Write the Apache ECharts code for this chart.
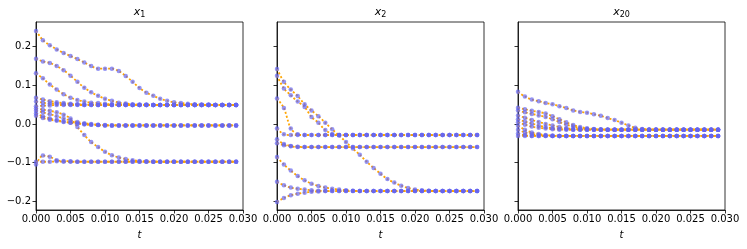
<!DOCTYPE html>
<html><head><meta charset="utf-8">
<script src="https://cdn.jsdelivr.net/npm/echarts@6/dist/echarts.min.js"></script>
<style>html,body{margin:0;padding:0;background:#fff}#c{width:747px;height:249px}</style>
</head><body><div id="c"></div>
<script>
// time samples
var t = [0.000,0.001,0.002,0.003,0.004,0.005,0.006,0.007,0.008,0.009,0.010,0.011,0.012,0.013,0.014,0.015,0.016,0.017,0.018,0.019,0.020,0.021,0.022,0.023,0.024,0.025,0.026,0.027,0.028,0.029];
var xTicks = [0.000,0.005,0.010,0.015,0.020,0.025,0.030];
var yTicks = [-0.2,-0.1,0.0,0.1,0.2];
var panelTitles = ['1','2','20'];

// panel x_1 trajectories
var x1_a = [0.241,0.217,0.204,0.193,0.184,0.176,0.168,0.159,0.150,0.143,0.143,0.143,0.137,0.124,0.109,0.093,0.081,0.073,0.065,0.060,0.056,0.054,0.052,0.051,0.050,0.050,0.049,0.049,0.049,0.049];
var x1_b = [0.169,0.162,0.158,0.150,0.139,0.125,0.109,0.094,0.082,0.073,0.065,0.060,0.055,0.053,0.051,0.050,0.050,0.049,0.049,0.049,0.049,0.049,0.049,0.049,0.049,0.049,0.049,0.049,0.049,0.049];
var x1_c = [0.131,0.118,0.102,0.089,0.077,0.068,0.062,0.058,0.055,0.054,0.052,0.051,0.050,0.050,0.049,0.049,0.049,0.049,0.049,0.049,0.049,0.049,0.049,0.049,0.049,0.049,0.049,0.049,0.049,0.049];
var x1_d = [0.068,0.063,0.059,0.056,0.054,0.052,0.051,0.050,0.050,0.049,0.049,0.049,0.049,0.049,0.049,0.049,0.049,0.049,0.049,0.049,0.049,0.049,0.049,0.049,0.049,0.049,0.049,0.049,0.049,0.049];
var x1_e = [0.058,0.055,0.053,0.052,0.051,0.050,0.050,0.049,0.049,0.049,0.049,0.049,0.049,0.049,0.049,0.049,0.049,0.049,0.049,0.049,0.049,0.049,0.049,0.049,0.049,0.049,0.049,0.049,0.049,0.049];
var x1_f = [0.046,0.047,0.048,0.049,0.049,0.049,0.049,0.049,0.049,0.049,0.049,0.049,0.049,0.049,0.049,0.049,0.049,0.049,0.049,0.049,0.049,0.049,0.049,0.049,0.049,0.049,0.049,0.049,0.049,0.049];
var x1_g = [0.040,0.037,0.034,0.030,0.024,0.014,-0.008,-0.029,-0.047,-0.060,-0.072,-0.081,-0.087,-0.091,-0.094,-0.096,-0.097,-0.098,-0.098,-0.098,-0.098,-0.098,-0.098,-0.098,-0.098,-0.098,-0.098,-0.098,-0.098,-0.098];
var x1_h = [0.034,0.030,0.025,0.020,0.014,0.009,0.005,0.002,0.000,-0.002,-0.003,-0.004,-0.004,-0.004,-0.004,-0.004,-0.004,-0.004,-0.004,-0.004,-0.004,-0.004,-0.004,-0.004,-0.004,-0.004,-0.004,-0.004,-0.004,-0.004];
var x1_i = [0.027,0.020,0.014,0.010,0.006,0.003,0.001,-0.001,-0.002,-0.003,-0.004,-0.004,-0.004,-0.004,-0.004,-0.004,-0.004,-0.004,-0.004,-0.004,-0.004,-0.004,-0.004,-0.004,-0.004,-0.004,-0.004,-0.004,-0.004,-0.004];
var x1_j = [0.021,0.015,0.011,0.008,0.005,0.003,0.001,-0.001,-0.002,-0.003,-0.004,-0.004,-0.004,-0.004,-0.004,-0.004,-0.004,-0.004,-0.004,-0.004,-0.004,-0.004,-0.004,-0.004,-0.004,-0.004,-0.004,-0.004,-0.004,-0.004];
var x1_k = [-0.105,-0.082,-0.085,-0.094,-0.096,-0.097,-0.098,-0.098,-0.098,-0.098,-0.098,-0.098,-0.098,-0.098,-0.098,-0.098,-0.098,-0.098,-0.098,-0.098,-0.098,-0.098,-0.098,-0.098,-0.098,-0.098,-0.098,-0.098,-0.098,-0.098];
var x1_l = [-0.098,-0.098,-0.098,-0.097,-0.098,-0.098,-0.098,-0.098,-0.098,-0.098,-0.098,-0.098,-0.098,-0.098,-0.098,-0.098,-0.098,-0.098,-0.098,-0.098,-0.098,-0.098,-0.098,-0.098,-0.098,-0.098,-0.098,-0.098,-0.098,-0.098];

// panel x_2 trajectories
var x2_a = [0.142,0.109,0.089,0.072,0.051,0.035,0.020,0.003,-0.014,-0.030,-0.047,-0.064,-0.080,-0.098,-0.114,-0.129,-0.143,-0.152,-0.160,-0.166,-0.170,-0.172,-0.173,-0.174,-0.174,-0.174,-0.174,-0.174,-0.174,-0.174];
var x2_b = [0.125,0.092,0.074,0.058,0.044,0.018,0.003,-0.016,-0.026,-0.029,-0.029,-0.029,-0.029,-0.029,-0.029,-0.029,-0.029,-0.029,-0.029,-0.029,-0.029,-0.029,-0.029,-0.029,-0.029,-0.029,-0.029,-0.029,-0.029,-0.029];
var x2_c = [0.066,0.041,-0.012,-0.027,-0.029,-0.029,-0.029,-0.029,-0.029,-0.029,-0.029,-0.029,-0.029,-0.029,-0.029,-0.029,-0.029,-0.029,-0.029,-0.029,-0.029,-0.029,-0.029,-0.029,-0.029,-0.029,-0.029,-0.029,-0.029,-0.029];
var x2_d = [-0.012,-0.027,-0.029,-0.029,-0.029,-0.029,-0.029,-0.029,-0.029,-0.029,-0.029,-0.029,-0.029,-0.029,-0.029,-0.029,-0.029,-0.029,-0.029,-0.029,-0.029,-0.029,-0.029,-0.029,-0.029,-0.029,-0.029,-0.029,-0.029,-0.029];
var x2_e = [-0.040,-0.052,-0.057,-0.059,-0.060,-0.060,-0.060,-0.060,-0.060,-0.060,-0.060,-0.060,-0.060,-0.060,-0.060,-0.060,-0.060,-0.060,-0.060,-0.060,-0.060,-0.060,-0.060,-0.060,-0.060,-0.060,-0.060,-0.060,-0.060,-0.060];
var x2_f = [-0.050,-0.055,-0.058,-0.060,-0.060,-0.060,-0.060,-0.060,-0.060,-0.060,-0.060,-0.060,-0.060,-0.060,-0.060,-0.060,-0.060,-0.060,-0.060,-0.060,-0.060,-0.060,-0.060,-0.060,-0.060,-0.060,-0.060,-0.060,-0.060,-0.060];
var x2_g = [-0.086,-0.105,-0.121,-0.135,-0.146,-0.155,-0.161,-0.165,-0.168,-0.170,-0.172,-0.173,-0.174,-0.174,-0.174,-0.174,-0.174,-0.174,-0.174,-0.174,-0.174,-0.174,-0.174,-0.174,-0.174,-0.174,-0.174,-0.174,-0.174,-0.174];
var x2_h = [-0.150,-0.159,-0.165,-0.168,-0.170,-0.172,-0.173,-0.174,-0.174,-0.174,-0.174,-0.174,-0.174,-0.174,-0.174,-0.174,-0.174,-0.174,-0.174,-0.174,-0.174,-0.174,-0.174,-0.174,-0.174,-0.174,-0.174,-0.174,-0.174,-0.174];
var x2_i = [-0.202,-0.192,-0.185,-0.181,-0.178,-0.176,-0.175,-0.174,-0.174,-0.174,-0.174,-0.174,-0.174,-0.174,-0.174,-0.174,-0.174,-0.174,-0.174,-0.174,-0.174,-0.174,-0.174,-0.174,-0.174,-0.174,-0.174,-0.174,-0.174,-0.174];

// panel x_20 trajectories
var x20_a = [0.083,0.071,0.063,0.059,0.054,0.051,0.046,0.041,0.035,0.031,0.029,0.025,0.021,0.015,0.010,0.003,-0.004,-0.010,-0.013,-0.015,-0.015,-0.015,-0.015,-0.015,-0.015,-0.015,-0.015,-0.015,-0.015,-0.015];
var x20_b = [0.042,0.038,0.034,0.031,0.027,0.020,0.012,0.004,-0.003,-0.008,-0.011,-0.013,-0.014,-0.015,-0.015,-0.015,-0.015,-0.015,-0.015,-0.015,-0.015,-0.015,-0.015,-0.015,-0.015,-0.015,-0.015,-0.015,-0.015,-0.015];
var x20_c = [0.035,0.030,0.026,0.022,0.018,0.012,0.005,-0.002,-0.007,-0.011,-0.013,-0.014,-0.015,-0.015,-0.015,-0.015,-0.015,-0.015,-0.015,-0.015,-0.015,-0.015,-0.015,-0.015,-0.015,-0.015,-0.015,-0.015,-0.015,-0.015];
var x20_d = [0.022,0.016,0.010,0.005,0.000,-0.004,-0.008,-0.011,-0.013,-0.014,-0.015,-0.015,-0.015,-0.015,-0.015,-0.015,-0.015,-0.015,-0.015,-0.015,-0.015,-0.015,-0.015,-0.015,-0.015,-0.015,-0.015,-0.015,-0.015,-0.015];
var x20_e = [0.012,0.006,0.001,-0.004,-0.008,-0.011,-0.013,-0.014,-0.015,-0.015,-0.015,-0.015,-0.015,-0.015,-0.015,-0.015,-0.015,-0.015,-0.015,-0.015,-0.015,-0.015,-0.015,-0.015,-0.015,-0.015,-0.015,-0.015,-0.015,-0.015];
var x20_f = [0.004,-0.002,-0.007,-0.010,-0.012,-0.014,-0.015,-0.015,-0.015,-0.015,-0.015,-0.015,-0.015,-0.015,-0.015,-0.015,-0.015,-0.015,-0.015,-0.015,-0.015,-0.015,-0.015,-0.015,-0.015,-0.015,-0.015,-0.015,-0.015,-0.015];
var x20_g = [-0.005,-0.015,-0.022,-0.026,-0.029,-0.030,-0.031,-0.031,-0.031,-0.031,-0.031,-0.031,-0.031,-0.031,-0.031,-0.031,-0.031,-0.031,-0.031,-0.031,-0.031,-0.031,-0.031,-0.031,-0.031,-0.031,-0.031,-0.031,-0.031,-0.031];
var x20_h = [-0.015,-0.022,-0.026,-0.029,-0.030,-0.031,-0.031,-0.031,-0.031,-0.031,-0.031,-0.031,-0.031,-0.031,-0.031,-0.031,-0.031,-0.031,-0.031,-0.031,-0.031,-0.031,-0.031,-0.031,-0.031,-0.031,-0.031,-0.031,-0.031,-0.031];
var x20_i = [-0.025,-0.029,-0.031,-0.031,-0.031,-0.031,-0.031,-0.031,-0.031,-0.031,-0.031,-0.031,-0.031,-0.031,-0.031,-0.031,-0.031,-0.031,-0.031,-0.031,-0.031,-0.031,-0.031,-0.031,-0.031,-0.031,-0.031,-0.031,-0.031,-0.031];
var x20_j = [-0.031,-0.031,-0.031,-0.031,-0.031,-0.031,-0.031,-0.031,-0.031,-0.031,-0.031,-0.031,-0.031,-0.031,-0.031,-0.031,-0.031,-0.031,-0.031,-0.031,-0.031,-0.031,-0.031,-0.031,-0.031,-0.031,-0.031,-0.031,-0.031,-0.031];

var panels = [
  [x1_a,x1_b,x1_c,x1_d,x1_e,x1_f,x1_g,x1_h,x1_i,x1_j,x1_k,x1_l],
  [x2_a,x2_b,x2_c,x2_d,x2_e,x2_f,x2_g,x2_h,x2_i],
  [x20_a,x20_b,x20_c,x20_d,x20_e,x20_f,x20_g,x20_h,x20_i,x20_j]
];

var FONT = 'DejaVu Sans';
var gridLefts = [36, 277, 518];
var gridW = 207, gridTop = 22, gridH = 188;

function fmtY(v){ var s = v.toFixed(1); return s.replace('-', '\u2212'); }

var grids = [], xAxes = [], yAxes = [], series = [], graphics = [];
for (var p = 0; p < 3; p++) {
  grids.push({left: gridLefts[p], top: gridTop, width: gridW, height: gridH,
    show: true, borderColor: '#000', borderWidth: 0.8, backgroundColor: '#fff'});
  xAxes.push({type: 'value', gridIndex: p, min: 0, max: 0.03, interval: 0.005,
    axisLine: {show: true, onZero: false, lineStyle: {color: '#000', width: 0.8}},
    axisTick: {show: true, length: 3.5, lineStyle: {color: '#000', width: 0.8}},
    splitLine: {show: false},
    axisLabel: {fontFamily: FONT, fontSize: 10, color: '#000', margin: 4,
      formatter: function(v){ return v.toFixed(3); }},
    name: 't', nameLocation: 'middle', nameGap: 20,
    nameTextStyle: {fontFamily: FONT, fontSize: 10, fontStyle: 'italic', color: '#000'}});
  yAxes.push({type: 'value', gridIndex: p, min: -0.223, max: 0.264,
    axisLine: {show: true, onZero: false, lineStyle: {color: '#000', width: 0.8}},
    axisTick: {show: true, length: 3.5, customValues: yTicks, lineStyle: {color: '#000', width: 0.8}},
    splitLine: {show: false},
    axisLabel: {show: p === 0, customValues: yTicks, fontFamily: FONT, fontSize: 10, color: '#000', margin: 5,
      formatter: fmtY}});
  var trajs = panels[p];
  for (var k = 0; k < trajs.length; k++) {
    var data = [];
    for (var i = 0; i < t.length; i++) data.push([t[i], trajs[k][i]]);
    series.push({type: 'line', xAxisIndex: p, yAxisIndex: p, data: data,
      showSymbol: false, silent: true, z: 2, animation: false, smooth: 0.3,
      lineStyle: {color: '#ffa500', width: 1.8, type: [2, 2]}});
    series.push({type: 'scatter', xAxisIndex: p, yAxisIndex: p, data: data,
      symbol: 'circle', symbolSize: 4.5, silent: true, z: 3, animation: false,
      itemStyle: {color: 'rgba(100,100,240,0.85)'}});
  }
  graphics.push({type: 'text', x: gridLefts[p] + gridW / 2, y: 5,
    style: {text: '{i|x}{s|' + panelTitles[p] + '}', textAlign: 'center', textVerticalAlign: 'top',
      rich: {i: {fontFamily: FONT, fontSize: 11, fontStyle: 'italic', color: '#000', lineHeight: 14},
             s: {fontFamily: FONT, fontSize: 8, color: '#000', verticalAlign: 'bottom', lineHeight: 11, padding: [6, 0, 0, 0]}}}});
}

var chart = echarts.init(document.getElementById('c'), null, {renderer: 'canvas'});
chart.setOption({animation: false, grid: grids, xAxis: xAxes, yAxis: yAxes, series: series, graphic: graphics});
</script></body></html>
